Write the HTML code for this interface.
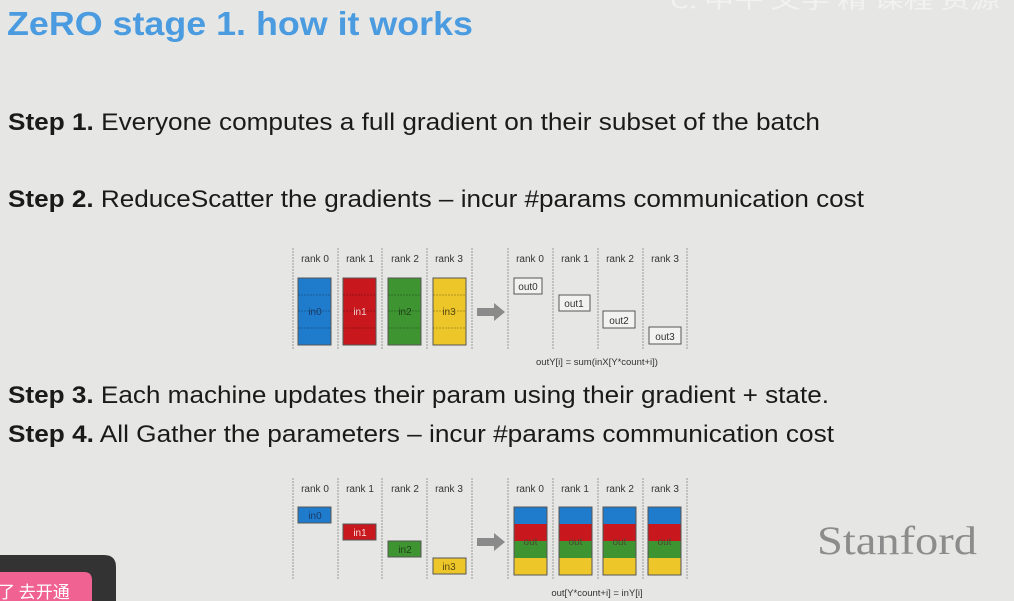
<!DOCTYPE html>
<html><head><meta charset="utf-8"><style>
html,body{margin:0;padding:0;background:#e6e7e4;width:1014px;height:601px;overflow:hidden}
svg{display:block}
</style></head><body>
<svg width="1014" height="601" viewBox="0 0 1014 601" xmlns="http://www.w3.org/2000/svg" font-family="Liberation Sans, sans-serif">
<rect width="1014" height="601" fill="#e6e7e4"/>
<text x="7" y="35" font-size="33" font-weight="bold" fill="#4a9be0" textLength="466" lengthAdjust="spacingAndGlyphs">ZeRO stage 1. how it works</text>
<text x="670" y="8" font-size="22" fill="#f2f2f0" textLength="330" lengthAdjust="spacingAndGlyphs" font-family="Noto Sans CJK SC, sans-serif">C. 中午 文字 精 课程 资源</text>
<g font-size="24" fill="#1a1a1a">
<text x="8" y="130" textLength="812" lengthAdjust="spacingAndGlyphs"><tspan font-weight="bold">Step 1.</tspan> Everyone computes a full gradient on their subset of the batch</text>
<text x="8" y="207" textLength="856" lengthAdjust="spacingAndGlyphs"><tspan font-weight="bold">Step 2.</tspan> ReduceScatter the gradients – incur #params communication cost</text>
<text x="8" y="403" textLength="821" lengthAdjust="spacingAndGlyphs"><tspan font-weight="bold">Step 3.</tspan> Each machine updates their param using their gradient + state.</text>
<text x="8" y="442" textLength="826" lengthAdjust="spacingAndGlyphs"><tspan font-weight="bold">Step 4.</tspan> All Gather the parameters – incur #params communication cost</text>
</g>
<!-- Diagram 1 -->
<g stroke="#999" stroke-width="1" stroke-dasharray="2,1">
<line x1="293" y1="248" x2="293" y2="350"/><line x1="338" y1="248" x2="338" y2="350"/><line x1="382" y1="248" x2="382" y2="350"/><line x1="427" y1="248" x2="427" y2="350"/><line x1="472" y1="248" x2="472" y2="350"/>
<line x1="508" y1="248" x2="508" y2="350"/><line x1="553" y1="248" x2="553" y2="350"/><line x1="598" y1="248" x2="598" y2="350"/><line x1="643" y1="248" x2="643" y2="350"/><line x1="687" y1="248" x2="687" y2="350"/>
</g>
<g font-size="10" fill="#333" text-anchor="middle">
<text x="315" y="262">rank 0</text><text x="360" y="262">rank 1</text><text x="405" y="262">rank 2</text><text x="449" y="262">rank 3</text>
<text x="530" y="262">rank 0</text><text x="575" y="262">rank 1</text><text x="620" y="262">rank 2</text><text x="665" y="262">rank 3</text>
</g>
<g stroke="#555" stroke-width="1">
<rect x="298" y="278" width="33" height="67" fill="#1f7ccc"/>
<rect x="343" y="278" width="33" height="67" fill="#c8171d"/>
<rect x="388" y="278" width="33" height="67" fill="#3e9430"/>
<rect x="433" y="278" width="33" height="67" fill="#edc62a"/>
</g>
<g stroke="#000" stroke-opacity="0.25" stroke-dasharray="2,1">
<line x1="298" y1="295" x2="331" y2="295"/><line x1="298" y1="311" x2="331" y2="311"/><line x1="298" y1="328" x2="331" y2="328"/>
<line x1="343" y1="295" x2="376" y2="295"/><line x1="343" y1="311" x2="376" y2="311"/><line x1="343" y1="328" x2="376" y2="328"/>
<line x1="388" y1="295" x2="421" y2="295"/><line x1="388" y1="311" x2="421" y2="311"/><line x1="388" y1="328" x2="421" y2="328"/>
<line x1="433" y1="295" x2="466" y2="295"/><line x1="433" y1="311" x2="466" y2="311"/><line x1="433" y1="328" x2="466" y2="328"/>
</g>
<g font-size="10" text-anchor="middle">
<text x="315" y="315" fill="#1a3a66">in0</text><text x="360" y="315" fill="#f0d0d0">in1</text><text x="405" y="315" fill="#1f3f1a">in2</text><text x="449" y="315" fill="#5a4a10">in3</text>
</g>
<polygon points="477,308 494,308 494,303 505,312 494,321 494,316 477,316" fill="#8a8a8a"/>
<g fill="#f2f2f0" stroke="#555">
<rect x="514" y="278" width="28" height="16"/><rect x="559" y="295" width="31" height="16"/><rect x="603" y="311" width="32" height="17"/><rect x="649" y="327" width="32" height="17"/>
</g>
<g font-size="10" fill="#333" text-anchor="middle">
<text x="528" y="290">out0</text><text x="574" y="307">out1</text><text x="619" y="324">out2</text><text x="665" y="340">out3</text>
<text x="597" y="365" font-size="9.5">outY[i] = sum(inX[Y*count+i])</text>
</g>
<!-- Diagram 2 -->
<g stroke="#999" stroke-width="1" stroke-dasharray="2,1">
<line x1="293" y1="478" x2="293" y2="580"/><line x1="338" y1="478" x2="338" y2="580"/><line x1="382" y1="478" x2="382" y2="580"/><line x1="427" y1="478" x2="427" y2="580"/><line x1="472" y1="478" x2="472" y2="580"/>
<line x1="508" y1="478" x2="508" y2="580"/><line x1="553" y1="478" x2="553" y2="580"/><line x1="598" y1="478" x2="598" y2="580"/><line x1="643" y1="478" x2="643" y2="580"/><line x1="687" y1="478" x2="687" y2="580"/>
</g>
<g font-size="10" fill="#333" text-anchor="middle">
<text x="315" y="492">rank 0</text><text x="360" y="492">rank 1</text><text x="405" y="492">rank 2</text><text x="449" y="492">rank 3</text>
<text x="530" y="492">rank 0</text><text x="575" y="492">rank 1</text><text x="620" y="492">rank 2</text><text x="665" y="492">rank 3</text>
</g>
<g stroke="#555">
<rect x="298" y="507" width="33" height="16" fill="#1f7ccc"/>
<rect x="343" y="524" width="33" height="16" fill="#c8171d"/>
<rect x="388" y="541" width="33" height="16" fill="#3e9430"/>
<rect x="433" y="558" width="33" height="16" fill="#edc62a"/>
</g>
<g font-size="10" text-anchor="middle">
<text x="315" y="519" fill="#1a3a66">in0</text><text x="360" y="536" fill="#f5dede">in1</text><text x="405" y="553" fill="#1f3f1a">in2</text><text x="449" y="570" fill="#5a4a10">in3</text>
</g>
<polygon points="477,538 494,538 494,533 505,542 494,551 494,546 477,546" fill="#8a8a8a"/>
<g id="st">
<rect x="514" y="507" width="33" height="17" fill="#1f7ccc"/>
<rect x="514" y="524" width="33" height="17" fill="#c8171d"/>
<rect x="514" y="541" width="33" height="17" fill="#3e9430"/>
<rect x="514" y="558" width="33" height="17" fill="#edc62a"/>
<rect x="514" y="507" width="33" height="68" fill="none" stroke="#555"/>
<text x="530.5" y="545" font-size="10" fill="#4a4a30" text-anchor="middle">out</text>
</g>
<use href="#st" x="45"/><use href="#st" x="89"/><use href="#st" x="134"/>
<text x="597" y="596" font-size="9.5" fill="#333" text-anchor="middle">out[Y*count+i] = inY[i]</text>
<text x="817" y="554" font-size="40" fill="#8c8c8c" font-family="Liberation Serif, serif" textLength="160" lengthAdjust="spacingAndGlyphs">Stanford</text>
<!-- bottom-left overlay -->
<path d="M0,555 L104,555 Q116,555 116,567 L116,601 L0,601 Z" fill="#333"/>
<path d="M0,572 L84,572 Q92,572 92,580 L92,601 L0,601 Z" fill="#f06292"/>
<text x="-2" y="598" font-size="17" fill="#fff" font-family="Noto Sans CJK SC, sans-serif">了 去开通</text>
</svg>
</body></html>
